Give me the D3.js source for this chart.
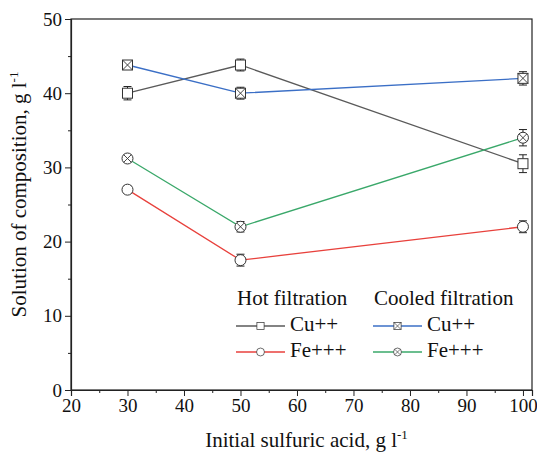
<!DOCTYPE html>
<html>
<head>
<meta charset="utf-8">
<script src="https://cdn.jsdelivr.net/npm/d3@7"></script>
<style>
  body { margin: 0; background: #fff; }
</style>
</head>
<body>
<div id="chart"></div>
<script>
// data
var acid = [30, 50, 100];
var hotCu = [40.0, 43.8, 30.5];
var hotCuErr = [0.9, 0.8, 1.2];
var hotFe = [27.0, 17.5, 22.0];
var hotFeErr = [0.5, 0.8, 0.8];
var coolCu = [43.8, 40.0, 42.0];
var coolCuErr = [0.5, 0.8, 0.9];
var coolFe = [31.2, 22.0, 34.0];
var coolFeErr = [0.5, 0.7, 1.1];
var xTicks = [20, 30, 40, 50, 60, 70, 80, 90, 100];
var yTicks = [0, 10, 20, 30, 40, 50];

var FONT = "Liberation Serif";

var margin = {top: 19, right: 5, bottom: 71, left: 71},
    width = 537 - margin.left - margin.right,
    height = 461 - margin.top - margin.bottom;

var x = d3.scaleLinear().domain([20, 101.6]).range([0, width]);
var y = d3.scaleLinear().domain([0, 50]).range([height, 0]);

var svg = d3.select("#chart").append("svg")
    .attr("width", 537)
    .attr("height", 461)
    .attr("font-family", FONT)
    .append("g")
    .attr("transform", "translate(" + margin.left + "," + margin.top + ")");

// frame
svg.append("rect")
    .attr("width", width).attr("height", height)
    .attr("fill", "none").attr("stroke", "#222").attr("stroke-width", 1.2);

// minor ticks
var xMinor = d3.range(25, 101, 10);
var yMinor = d3.range(5, 50, 10);
svg.append("g")
    .attr("transform", "translate(0," + height + ")")
    .call(d3.axisBottom(x).tickValues(xMinor).tickSize(3).tickFormat(""))
    .call(g => g.select(".domain").remove());
svg.append("g")
    .call(d3.axisLeft(y).tickValues(yMinor).tickSize(3).tickFormat(""))
    .call(g => g.select(".domain").remove());

// major axes
var xAxis = svg.append("g")
    .attr("transform", "translate(0," + height + ")")
    .call(d3.axisBottom(x).tickValues(xTicks).tickSize(6).tickPadding(3));
var yAxis = svg.append("g")
    .call(d3.axisLeft(y).tickValues(yTicks).tickSize(6).tickPadding(3));
[xAxis, yAxis].forEach(function(a) {
    a.attr("font-family", FONT).attr("font-size", 19);
    a.select(".domain").attr("stroke", "#222").attr("stroke-width", 1.2);
    a.selectAll("text").attr("fill", "#111");
});
svg.selectAll(".tick line").attr("stroke", "#222");

// axis titles
var xl = svg.append("text")
    .attr("x", width / 2 + 5).attr("y", height + 57)
    .attr("text-anchor", "middle").attr("font-size", 21)
    .attr("fill", "#111")
    .text("Initial sulfuric acid, g l");
xl.append("tspan").attr("dy", -8).attr("font-size", 13).text("-1");

var yl = svg.append("text")
    .attr("transform", "rotate(-90)")
    .attr("x", -height / 2 + 10).attr("y", -45)
    .attr("text-anchor", "middle").attr("font-size", 21)
    .attr("fill", "#111")
    .text("Solution of composition, g l");
yl.append("tspan").attr("dy", -8).attr("font-size", 13).text("-1");

var series = [
    {vals: hotCu, err: hotCuErr, color: "#5a5a5a", marker: "square"},
    {vals: hotFe, err: hotFeErr, color: "#e8413c", marker: "circle"},
    {vals: coolCu, err: coolCuErr, color: "#3b6fc6", marker: "xsquare"},
    {vals: coolFe, err: coolFeErr, color: "#3aa86a", marker: "xcircle"}
];

function drawMarker(g, type) {
    var s = 5;
    if (type === "square" || type === "xsquare") {
        g.append("rect").attr("x", -s).attr("y", -s).attr("width", 2 * s).attr("height", 2 * s)
            .attr("fill", "#fff").attr("stroke", "#333").attr("stroke-width", 1);
    } else {
        g.append("circle").attr("r", s + 0.5)
            .attr("fill", "#fff").attr("stroke", "#333").attr("stroke-width", 1);
    }
    if (type === "xsquare" || type === "xcircle") {
        var k = type === "xsquare" ? s : s * 0.75;
        g.append("path").attr("d", "M" + (-k) + "," + (-k) + "L" + k + "," + k + "M" + (-k) + "," + k + "L" + k + "," + (-k))
            .attr("stroke", "#333").attr("stroke-width", 0.9);
    }
}

var line = d3.line().x(function(d, i) { return x(acid[i]); }).y(function(d) { return y(d); });

series.forEach(function(s) {
    svg.append("path")
        .datum(s.vals)
        .attr("d", line)
        .attr("fill", "none")
        .attr("stroke", s.color)
        .attr("stroke-width", 1.3);
});

series.forEach(function(s) {
    s.vals.forEach(function(v, i) {
        var cx = x(acid[i]);
        var top = y(v + s.err[i]), bot = y(v - s.err[i]);
        var eb = svg.append("g").attr("stroke", "#222").attr("stroke-width", 1);
        eb.append("line").attr("x1", cx).attr("x2", cx).attr("y1", top).attr("y2", bot);
        eb.append("line").attr("x1", cx - 4).attr("x2", cx + 4).attr("y1", top).attr("y2", top);
        eb.append("line").attr("x1", cx - 4).attr("x2", cx + 4).attr("y1", bot).attr("y2", bot);
        var m = svg.append("g").attr("transform", "translate(" + cx + "," + y(v) + ")");
        drawMarker(m, s.marker);
    });
});

// legend
var legend = svg.append("g").attr("transform", "translate(" + (236 - margin.left) + "," + (305 - margin.top) + ")");
var cols = [
    {title: "Hot filtration", dx: 0, items: [["Cu++", series[0]], ["Fe+++", series[1]]]},
    {title: "Cooled filtration", dx: 137, items: [["Cu++", series[2]], ["Fe+++", series[3]]]}
];
cols.forEach(function(c) {
    var g = legend.append("g").attr("transform", "translate(" + c.dx + ",0)");
    g.append("text").attr("x", 1).attr("y", 0)
        .attr("font-size", 21).attr("fill", "#111").text(c.title);
    c.items.forEach(function(it, j) {
        var ly = 21 + j * 26;
        g.append("line").attr("x1", 0).attr("x2", 49).attr("y1", ly).attr("y2", ly)
            .attr("stroke", it[1].color).attr("stroke-width", 1.3);
        var m = g.append("g").attr("transform", "translate(24.5," + ly + ") scale(0.72)");
        drawMarker(m, it[1].marker);
        g.append("text").attr("x", 54).attr("y", ly + 5)
            .attr("font-size", 21).attr("fill", "#111").text(it[0]);
    });
});
</script>
</body>
</html>
